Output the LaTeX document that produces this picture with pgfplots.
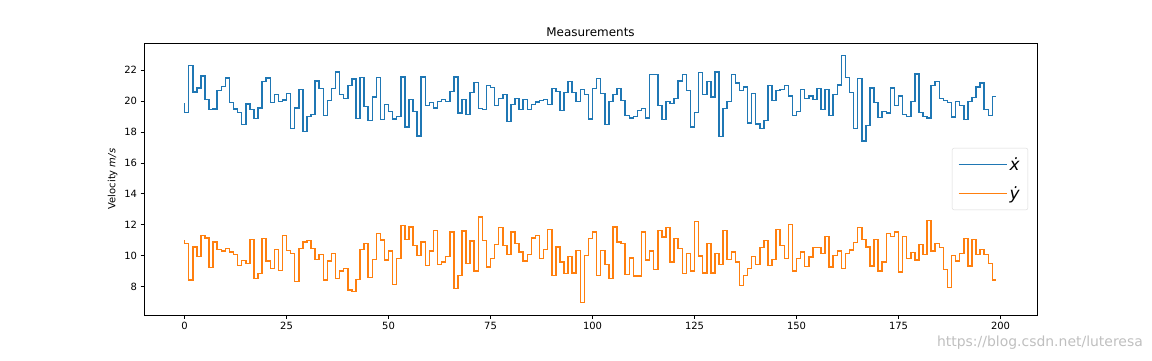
\documentclass[border=0pt]{standalone}
\usepackage{pgfplots}
\pgfplotsset{compat=1.18}
\usepackage{fontspec}
\setmainfont{DejaVu Sans}
\definecolor{tabblue}{HTML}{1F77B4}
\definecolor{taborange}{HTML}{FF7F0E}
\begin{document}
\begin{tikzpicture}[x=1bp,y=1bp]
\useasboundingbox (0,0) rectangle (1152,360);
\begin{axis}[
  at={(144bp,45bp)}, anchor=south west,
  scale only axis, width=893bp, height=272bp,
  xmin=-9.95, xmax=208.95, ymin=6.17, ymax=23.75,
  xtick={0,25,50,75,100,125,150,175,200},
  ytick={8,10,12,14,16,18,20,22},
  xtick pos=left, ytick pos=left,
  tick align=outside, major tick length=3.5bp,
  tick style={black, line width=0.8bp},
  axis line style={line width=0.8bp},
  every tick label/.append style={font=\fontsize{10}{12}\selectfont},
  /pgf/number format/assume math mode=true,
  title={Measurements},
  title style={font=\fontsize{12}{14}\selectfont, yshift=-3bp},
  ylabel={Velocity \textit{m/s}},
  ylabel style={font=\fontsize{10}{12}\selectfont},
  legend style={at={(0.99,0.5)}, anchor=east, draw=black!15, rounded corners=2pt,
    font=\fontsize{17}{20}\selectfont, cells={anchor=west}, inner xsep=6bp, inner ysep=7bp, row sep=11bp},
  legend image code/.code={\draw[#1, line width=1.6bp] (0bp,0bp) -- (36bp,0bp); \path (0bp,0bp) -- (48bp,0bp);},
]
\addplot[const plot mark right, tabblue, line width=1.5bp] table {
x y
0 19.87
1 19.27
2 22.28
3 20.58
4 20.84
5 21.63
6 20.09
7 19.44
8 19.49
9 20.67
10 20.93
11 21.50
12 19.92
13 19.49
14 19.25
15 18.47
16 19.81
17 19.44
18 18.86
19 19.55
20 21.27
21 21.50
22 19.92
23 20.41
24 19.98
25 20.07
26 20.47
27 18.24
28 19.55
29 20.73
30 18.04
31 19.01
32 19.12
33 21.31
34 20.80
35 19.05
36 20.04
37 20.80
38 21.87
39 20.41
40 20.15
41 21.01
42 21.42
43 18.86
44 21.53
45 19.64
46 18.75
47 20.26
48 21.51
49 18.80
50 19.76
51 19.33
52 18.84
53 19.01
54 21.55
55 18.32
56 20.09
57 19.33
58 17.74
59 21.55
60 19.72
61 19.92
62 19.55
63 19.98
64 20.09
65 19.98
66 20.62
67 21.55
68 19.23
69 20.09
70 19.12
71 20.56
72 21.20
73 19.51
74 19.44
75 20.99
76 20.88
77 19.70
78 20.15
79 20.41
80 18.69
81 19.76
82 20.15
83 19.44
84 20.09
85 19.44
86 19.76
87 19.94
88 20.04
89 20.09
90 19.76
91 20.80
92 20.62
93 19.38
94 20.56
95 21.27
96 20.56
97 19.98
98 20.73
99 20.41
100 18.84
101 20.80
102 21.44
103 20.47
104 18.47
105 19.98
106 20.41
107 20.80
108 20.04
109 19.05
110 18.90
111 19.01
112 19.40
113 19.51
114 18.90
115 21.70
116 21.70
117 19.70
118 18.80
119 19.98
120 19.83
121 20.15
122 21.31
123 21.70
124 20.69
125 18.32
126 19.27
127 21.85
128 20.41
129 21.27
130 20.26
131 21.87
132 17.72
133 19.51
134 19.98
135 21.70
136 21.16
137 20.69
138 20.90
139 18.58
140 20.47
141 18.52
142 18.22
143 18.73
144 20.99
145 20.02
146 20.67
147 20.73
148 20.99
149 20.34
150 19.05
151 19.33
152 20.73
153 20.15
154 20.34
155 20.09
156 20.80
157 19.44
158 20.73
159 19.05
160 20.41
161 21.05
162 22.95
163 21.53
164 20.56
165 18.22
166 21.44
167 17.40
168 18.41
169 20.84
170 19.92
171 18.95
172 19.33
173 19.23
174 20.84
175 19.70
176 20.34
177 19.12
178 19.01
179 19.98
180 21.76
181 19.27
182 19.00
183 18.90
184 20.99
185 21.27
186 20.15
187 20.04
188 19.92
189 18.97
190 19.98
191 19.70
192 18.80
193 19.98
194 20.24
195 20.90
196 21.16
197 19.44
198 19.05
199 20.30
};
\addlegendentry{\textit{\.x}}
\addplot[const plot mark right, taborange, line width=1.5bp] table {
x y
0 11.01
1 10.80
2 8.43
3 10.58
4 9.94
5 11.31
6 11.16
7 9.23
8 10.88
9 10.41
10 10.30
11 10.47
12 10.24
13 10.09
14 9.38
15 9.70
16 9.51
17 11.05
18 8.52
19 8.86
20 11.12
21 9.66
22 9.16
23 10.41
24 9.05
25 11.31
26 10.35
27 10.15
28 8.32
29 10.47
30 10.90
31 10.99
32 10.47
33 9.76
34 10.09
35 8.43
36 9.66
37 10.15
38 8.54
39 9.01
40 9.18
41 7.79
42 7.68
43 8.47
44 10.41
45 10.80
46 8.58
47 9.76
48 11.44
49 11.01
50 9.72
51 10.30
52 8.15
53 9.83
54 11.96
55 11.05
56 11.87
57 10.67
58 10.02
59 10.90
60 9.38
61 10.30
62 11.63
63 9.44
64 9.59
65 9.94
66 11.53
67 7.87
68 8.73
69 11.59
70 9.51
71 10.95
72 9.01
73 12.52
74 10.99
75 9.27
76 9.83
77 10.73
78 11.81
79 10.67
80 10.09
81 11.53
82 10.80
83 10.24
84 9.66
85 10.09
86 11.16
87 11.31
88 9.83
89 10.41
90 11.68
91 8.73
92 10.58
93 9.59
94 8.86
95 9.94
96 8.90
97 10.35
98 6.97
99 10.02
100 11.12
101 11.55
102 8.73
103 10.35
104 9.44
105 8.54
106 11.87
107 10.90
108 10.80
109 8.80
110 9.87
111 8.69
112 8.69
113 11.55
114 9.72
115 10.30
116 9.12
117 11.63
118 11.20
119 11.81
120 9.59
121 11.12
122 10.47
123 8.86
124 10.15
125 9.01
126 12.20
127 9.98
128 8.90
129 10.80
130 8.90
131 10.15
132 9.44
133 11.63
134 9.76
135 10.24
136 9.59
137 8.09
138 8.73
139 9.16
140 9.94
141 9.44
142 10.52
143 10.99
144 9.38
145 9.76
146 11.70
147 10.67
148 9.81
149 12.02
150 9.01
151 9.83
152 10.24
153 9.29
154 9.91
155 10.52
156 10.52
157 10.15
158 11.23
159 9.27
160 10.02
161 10.30
162 9.16
163 10.15
164 10.37
165 10.84
166 11.81
167 11.05
168 10.56
169 9.33
170 11.05
171 9.01
172 9.61
173 11.44
174 11.23
175 11.53
176 8.95
177 11.23
178 9.83
179 10.20
180 9.72
181 10.73
182 10.09
183 12.28
184 10.30
185 10.80
186 10.52
187 9.12
188 7.94
189 10.02
190 9.66
191 10.15
192 11.12
193 9.33
194 11.05
195 10.09
196 10.41
197 10.09
198 9.51
199 8.43
};
\addlegendentry{\textit{\.y}}
\end{axis}
\node[anchor=east, text=black!25, font=\fontsize{14}{16}\selectfont, inner sep=0pt] at (1143,17) {https://blog.csdn.net/luteresa};
\end{tikzpicture}
\end{document}
